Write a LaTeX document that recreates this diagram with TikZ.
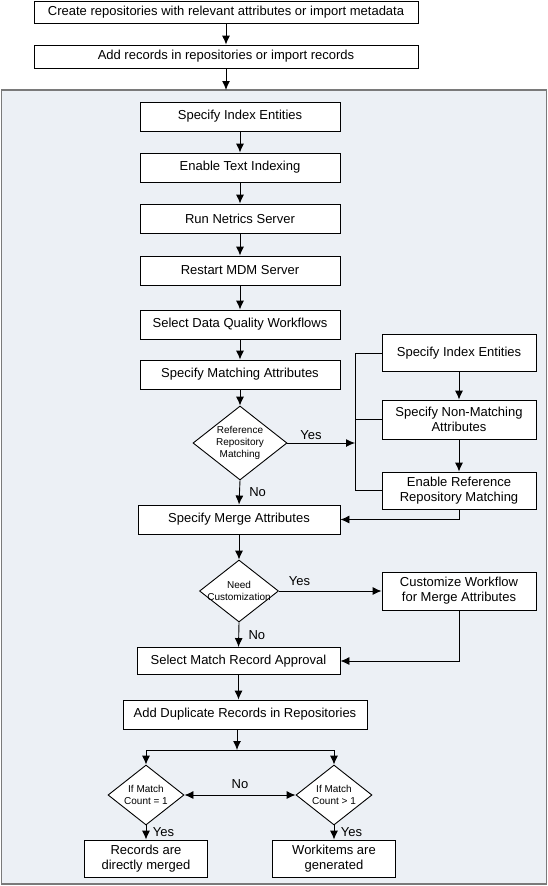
\documentclass[tikz,border=0pt]{standalone}
\usepackage{fontspec}
\setmainfont{Liberation Sans}
\usetikzlibrary{arrows.meta, shapes.geometric}

\definecolor{panelfill}{HTML}{ECF0F5}
\definecolor{panelline}{HTML}{7A7A7A}

\tikzset{
	stepbox/.style={draw, fill=white, line width=0.9pt, minimum height=29pt, inner sep=2pt, align=center, font=\fontsize{13}{15}\selectfont},
	sidebox/.style={stepbox, minimum width=154pt, minimum height=37pt},
	choice/.style={draw, fill=white, diamond, line width=0.9pt, inner sep=0pt},
	choicetext/.style={align=center, font=\fontsize{10}{12}\selectfont},
	tag/.style={font=\fontsize{13}{15}\selectfont},
	flow/.style={->, line width=0.9pt},
}

\begin{document}
\begin{tikzpicture}[x=1pt, y=-1pt, >={Latex[length=9pt, width=8pt]}]
	\useasboundingbox (0,0) rectangle (548,886);
	\draw[panelline, fill=panelfill, line width=1.5pt] (1.5,90) rectangle (546.5,884);

	% before the panel
	\node[stepbox, minimum width=384pt, minimum height=22pt] (create) at (226,12) {Create repositories with relevant attributes or import metadata};
	\node[stepbox, minimum width=384pt, minimum height=23pt] (addrec) at (226,56.5) {Add records in repositories or import records};
	\coordinate (paneltop) at (226,90);
	\draw[flow] (create) -- (addrec);
	\draw[flow] (addrec) -- (paneltop);

	% main column
	\node[stepbox, minimum width=200pt] (index) at (240,116.5) {Specify Index Entities};
	\node[stepbox, minimum width=200pt] (textidx) at (240,167.5) {Enable Text Indexing};
	\node[stepbox, minimum width=200pt] (netrics) at (240,218.5) {Run Netrics Server};
	\node[stepbox, minimum width=200pt] (restart) at (240,270.5) {Restart MDM Server};
	\node[stepbox, minimum width=200pt] (dqflow) at (240,324.5) {Select Data Quality Workflows};
	\node[stepbox, minimum width=200pt] (matching) at (240,374.5) {Specify Matching Attributes};
	\node[choice, minimum width=94pt, minimum height=74pt, label={[choicetext]center:Reference\\Repository\\Matching}] (refmatch) at (240,443) {};
	\node[stepbox, minimum width=202pt] (merge) at (239,519.5) {Specify Merge Attributes};
	\node[choice, minimum width=79pt, minimum height=62pt, label={[choicetext]center:Need\\Customization}] (custom) at (239,591) {};
	\node[stepbox, minimum width=203pt, minimum height=27pt] (approval) at (238.5,661) {Select Match Record Approval};
	\node[stepbox, minimum width=244pt] (duplicate) at (245,714.5) {Add Duplicate Records in Repositories};
	\node[choice, minimum width=76pt, minimum height=60pt, label={[choicetext]center:If Match\\Count = 1}] (countone) at (146,795) {};
	\node[choice, minimum width=76pt, minimum height=60pt, label={[choicetext]center:If Match\\Count > 1}] (countmany) at (334,795) {};
	\node[stepbox, minimum width=123pt, minimum height=37pt] (merged) at (146,858.5) {Records are\\directly merged};
	\node[stepbox, minimum width=123pt, minimum height=37pt] (workitems) at (334,858.5) {Workitems are\\generated};

	% side column
	\node[sidebox] (rindex) at (459,353) {Specify Index Entities};
	\node[sidebox, minimum height=39pt] (rnonmatch) at (459,419.5) {Specify Non-Matching\\Attributes};
	\node[sidebox] (renable) at (459,490.5) {Enable Reference\\Repository Matching};
	\node[sidebox, minimum height=38pt] (rcustom) at (459,591) {Customize Workflow\\for Merge Attributes};

	\foreach \a/\b in {index/textidx, textidx/netrics, netrics/restart, restart/dqflow, dqflow/matching, matching/refmatch, merge/custom, rindex/rnonmatch, rnonmatch/renable} {
		\draw[flow] (\a) -- (\b);
	}

	% reference repository branch
	\coordinate (bus) at (355,443);
	\draw[flow] (refmatch.east) -- (bus) node[tag, pos=0.35, above] {Yes};
	\draw[line width=0.9pt] (rindex.west) -- (rindex.west -| bus) -- (renable.west -| bus) -- (renable.west);
	\draw[line width=0.9pt] (rnonmatch.west) -- (rnonmatch.west -| bus);
	\draw[flow] (refmatch.south) -- (merge.north) node[tag, midway, right=6pt] {No};
	\draw[flow] (renable.south) |- (merge.east);

	% customization branch
	\draw[flow] (custom.east) -- (rcustom.west) node[tag, pos=0.2, above=2pt] {Yes};
	\draw[flow] (custom.south) -- (approval.north) node[tag, midway, right=6pt] {No};
	\draw[flow] (rcustom.south) |- (approval.east);
	\draw[flow] (approval.south) -- (approval.south |- duplicate.north);

	% match count
	\coordinate (split) at (237,750);
	\draw[flow] (split |- duplicate.south) -- (split);
	\draw[flow] (split) -| (countone.north);
	\draw[flow] (split) -| (countmany.north);
	\draw[<->, line width=0.9pt] (countone.east) -- (countmany.west) node[tag, midway, above=3pt] {No};
	\draw[flow] (countone.south) -- (merged.north) node[tag, midway, right=3pt] {Yes};
	\draw[flow] (countmany.south) -- (workitems.north) node[tag, midway, right=3pt] {Yes};
\end{tikzpicture}
\end{document}
